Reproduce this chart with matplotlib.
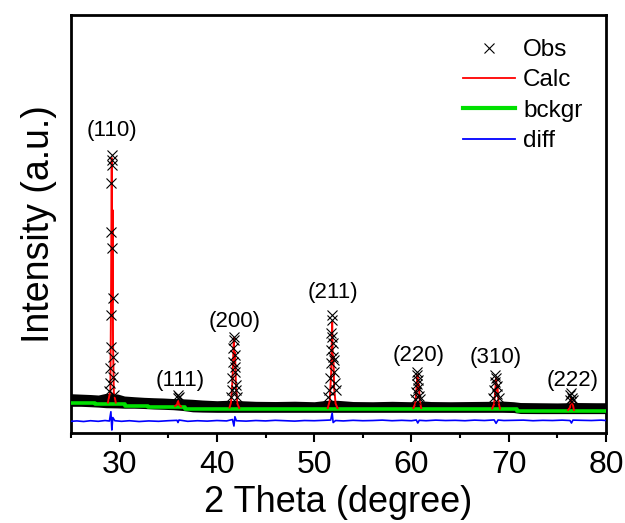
import numpy as np
import matplotlib
matplotlib.use("Agg")
import matplotlib.pyplot as plt
from matplotlib.lines import Line2D

plt.rcParams['font.family'] = ['Liberation Sans', 'DejaVu Sans']

nan = np.nan

# ---------------- data (intensity in arbitrary counts) ----------------
# observed points on the Bragg peaks
obs_x = [28.95, 29.00, 29.05, 29.08, 29.10, 29.13, 29.16, 29.18, 29.20, 29.22, 29.25, 29.28, 29.31, 29.35, 29.42,
         35.95, 36.02, 36.10,
         41.50, 41.55, 41.60, 41.65, 41.70, 41.74, 41.78, 41.82, 41.86, 41.90, 41.94, 41.98, 42.05,
         51.45, 51.55, 51.62, 51.68, 51.73, 51.78, 51.82, 51.85, 51.88, 51.92, 51.96, 52.00, 52.05, 52.12, 52.20,
         60.35, 60.45, 60.52, 60.58, 60.62, 60.66, 60.72, 60.80, 60.90,
         68.40, 68.50, 68.58, 68.64, 68.70, 68.76, 68.84, 68.95,
         76.25, 76.35, 76.42, 76.50, 76.58]
obs_y = [420, 495, 645, 855, 1175, 2005, 2495, 2775, 2725, 2675, 1845, 1345, 755, 555, 375,
         345, 375, 360,
         355, 425, 545, 705, 845, 955, 925, 775, 655, 605, 475, 425, 355,
         355, 425, 545, 695, 825, 995, 1125, 1175, 955, 895, 755, 725, 605, 495, 425,
         335, 405, 485, 575, 605, 525, 445, 365, 335,
         345, 425, 505, 575, 545, 465, 385, 345,
         325, 375, 395, 345, 325]

# envelope of the dense observed baseline points
band_x = [25, 26, 27, 27.8, 28.6, 29.8, 30.5, 31.5, 32.5, 33.5, 34.5, 35.5, 36.5, 37.5, 38.5, 40, 41, 42.5,
          44, 46, 48, 50, 51.3, 52.4, 54, 56, 58, 60, 61.2, 62, 64, 66, 68, 69.3, 70.5, 71.2, 73, 75, 77,
          79, 80]
band_hi = [388, 384, 380, 375, 392, 385, 365, 358, 352, 348, 345, 340, 337, 332, 325, 318, 322, 318,
           312, 310, 313, 308, 322, 322, 310, 308, 312, 308, 315, 310, 308, 310, 312, 315, 308, 300, 298,
           296, 300, 298, 298]
band_lo = [262, 262, 258, 254, 248, 246, 243, 243, 240, 235, 232, 228, 220, 207, 204, 202, 202, 202,
           202, 202, 202, 202, 202, 202, 202, 202, 202, 202, 202, 202, 202, 202, 202, 202, 200, 190, 189,
           189, 189, 189, 189]

# calculated profile around each reflection (segments separated by nan)
calc_x = [28.80, 29.05, 29.12, 29.19, 29.24, 29.28, 29.32, 29.40, 29.60, nan,
          35.70, 35.90, 36.00, 36.10, 36.30, nan,
          41.30, 41.45, 41.60, 41.74, 41.80, 41.86, 41.95, 42.10, 42.30, nan,
          51.40, 51.60, 51.75, 51.85, 51.92, 51.98, 52.05, 52.20, 52.40, nan,
          60.20, 60.40, 60.50, 60.62, 60.70, 60.76, 60.85, 61.00, nan,
          68.30, 68.50, 68.60, 68.70, 68.78, 68.84, 68.95, 69.10, nan,
          76.10, 76.30, 76.42, 76.50, 76.55, 76.70]
calc_y = [300, 420, 1400, 2745, 1300, 2225, 900, 400, 300, nan,
          265, 280, 318, 280, 260, nan,
          250, 300, 520, 945, 700, 800, 480, 290, 245, nan,
          245, 320, 600, 1105, 700, 760, 450, 290, 245, nan,
          245, 290, 420, 575, 430, 480, 320, 245, nan,
          240, 285, 400, 545, 420, 460, 300, 240, nan,
          225, 250, 345, 290, 305, 225]

# background (stepped)
bg_x = [25, 27.5, 30.5, 32.9, 36.7, 70.9, 80]
bg_y = [298, 282, 270, 255, 235, 218, 218]

# difference curve
diff_x = [25, 25.6, 26.3, 27, 27.8, 28.5, 28.95, 29.1, 29.2, 29.3, 29.5, 30.2, 31, 32, 33, 34, 35,
          35.9, 36.0, 36.1, 37, 38, 39, 40, 41, 41.6, 41.75, 41.85, 42.0, 43, 44, 45, 46, 47, 48, 49,
          50, 51, 51.7, 51.85, 51.95, 52.2, 53, 54, 55, 56, 57, 58, 59, 60, 60.5, 60.65, 60.8, 61.5,
          62.5, 63.5, 64.5, 65.5, 66.5, 67.5, 68.5, 68.7, 68.9, 69.5, 70.5, 71.5, 72.5, 73.5, 74.5,
          75.5, 76.3, 76.45, 76.6, 77.5, 78.5, 79.5, 80]
diff_y = [112, 116, 110, 118, 112, 120, 115, 208, 25, 150, 118, 112, 118, 110, 116, 112, 118,
          122, 100, 125, 112, 118, 114, 120, 116, 130, 65, 158, 118, 114, 120, 116, 122, 118, 114, 120,
          118, 122, 125, 195, 100, 120, 116, 122, 118, 120, 124, 118, 122, 118, 125, 95, 122, 118,
          124, 120, 122, 118, 124, 120, 126, 92, 125, 120, 122, 124, 118, 122, 120, 124, 120, 95, 124,
          122, 120, 124, 120]

# reflection labels
hkl_labels = ['(110)', '(111)', '(200)', '(211)', '(220)', '(310)', '(222)']
hkl_x = [29.2, 36.2, 41.8, 51.9, 60.7, 68.7, 76.6]
hkl_y = [3025, 525, 1115, 1405, 775, 755, 525]

# ---------------- plot ----------------
fig = plt.figure(figsize=(6.25, 5.23), dpi=100)
ax = fig.add_axes([0.1136, 0.173, 0.8560, 0.7983])

ax.fill_between(band_x, band_lo, band_hi, color='black', lw=0, zorder=2)
ax.plot(bg_x, bg_y, drawstyle='steps-post', color='#00e000', lw=2.6, zorder=3)
ax.plot(calc_x, calc_y, color='red', lw=1.4, zorder=4)
ax.plot(obs_x, obs_y, ls='none', marker='x', ms=6.5, mew=0.8, color='black', zorder=5)
ax.plot(diff_x, diff_y, color='blue', lw=1.2, zorder=3)

for lab, x, y in zip(hkl_labels, hkl_x, hkl_y):
    ax.text(x, y, lab, ha='center', va='center', fontsize=16, color='black')

ax.set_xlim(25, 80)
ax.set_ylim(0, 4175)
ax.set_xticks([30, 40, 50, 60, 70, 80])
ax.set_xticks([25, 35, 45, 55, 65, 75], minor=True)
ax.set_yticks([])
ax.tick_params(axis='x', which='major', direction='out', length=6.5, width=1.5,
               labelsize=23, pad=6)
ax.tick_params(axis='x', which='minor', direction='out', length=3.5, width=1.5)
for s in ax.spines.values():
    s.set_linewidth(2)

ax.set_xlabel('2 Theta (degree)', fontsize=26, labelpad=4)
ax.set_ylabel('Intensity (a.u.)', fontsize=27, labelpad=10)

handles = [Line2D([], [], ls='none', marker='x', ms=7, mew=0.8, color='black'),
           Line2D([], [], color='red', lw=1.3),
           Line2D([], [], color='#00e000', lw=3),
           Line2D([], [], color='blue', lw=1.3)]
ax.legend(handles, ['Obs', 'Calc', 'bckgr', 'diff'], loc='upper right',
          bbox_to_anchor=(0.983, 0.977), frameon=False, fontsize=17.5,
          handlelength=2.15, handletextpad=0.33, labelspacing=0.34, borderaxespad=0.2)

fig.savefig('out.png', dpi=100)
